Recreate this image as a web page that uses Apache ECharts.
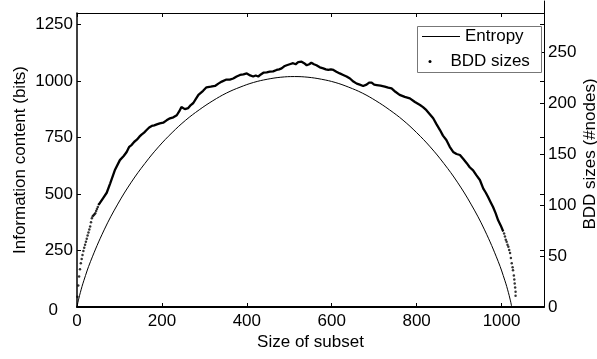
<!DOCTYPE html>
<html>
<head>
<meta charset="utf-8">
<script src="https://cdn.jsdelivr.net/npm/echarts@6/dist/echarts.min.js"></script>
<style>html,body{margin:0;padding:0;background:#fff}#c{width:597px;height:359px}</style>
</head>
<body>
<div id="c"></div>
<script>
// ---- data ----
var xTicks = [0, 200, 400, 600, 800, 1000];
var leftTicks = [0, 250, 500, 750, 1000, 1250];
var rightTicks = [0, 50, 100, 150, 200, 250];

// Entropy (bits) vs subset size
var entK = [0,2,4,8,16,32,64,96,128,160,192,224,256,288,320,352,384,416,448,480,512,544,576,608,640,672,704,736,768,800,832,864,896,928,960,992,1008,1016,1020,1022,1024];
var entV = [0,19,35,65,116,202,341,455,552,635,708,771,826,872,912,946,972,993,1007,1016,1019,1016,1007,993,972,946,912,872,826,771,708,635,552,455,341,202,116,65,35,19,0];

// BDD sizes (#nodes): sparse dots at the start
var headK = [1,3,5,7,9,11,13,15,17,19,21,23,25,27,29,31,33,35,37,39,41,43,45,47,49];
var headV = [10,21,30,37,43,47,51,55,58,61,64,67,70,73,76,79,83,87,89,90,91,92,94,96,98];
// dense middle part
var bodyK = [50,54,62,70,78,89,101,110,117,123,129,135,141,147,152,158,164,170,176,182,188,195,203,211,219,227,235,241,246,254,262,268,274,280,286,290,297,305,315,325,333,341,352,360,368,376,384,392,400,408,415,421,427,433,439,447,454,462,470,476,482,488,494,501,509,515,521,529,535,541,547,552,558,564,572,580,586,592,598,604,611,619,627,635,643,651,659,666,674,682,688,694,700,706,715,725,733,741,750,760,772,784,796,808,815,823,831,839,847,855,862,870,878,886,894,902,910,918,925,933,941,949,957,963,968,974,980,986,992,998,1004];
var bodyV = [100,102,107,112,121,134,144,148,152,157,159,162,164,167,169,171,173.5,176,177.5,178,179,180,180.7,183,185,186,188,192,196,194,195,198,200,204,208,209.5,212,215.4,216,216.7,219,221,223,223,224,226,227.5,228,229,227,226,227,226,228,229.7,230,230.7,231,232.4,233,234,236,237,238,239,238,240,240.5,239,237,238,239.5,238,237,235,234,233,232.4,233,232.4,230.7,229,227.5,226,224,221,219,218,216.7,218,220,220,218,217.6,217,216,215,214.4,211,208,206,204.6,201,198,196,193,189,185,179,173.5,168,163.7,157,152,150,149,145,141,137,134,129,124.5,116,112,108,103,98,92,85,80,74];
// sparse dots at the end
var tailK = [1006,1008,1010,1012,1014,1016,1018,1020,1022,1024,1026,1027,1029,1030,1031,1032,1033,1033];
var tailV = [72,69,66,64,61,59,56,53,48,43,39,36,31,27,23,19,15,11];

function pairs(a, b) { return a.map(function (v, i) { return [v, b[i]]; }); }

var FONT = "'Liberation Sans', Arial, Helvetica, sans-serif";
var chart = echarts.init(document.getElementById('c'), null, { renderer: 'canvas' });

var baseX = {
  type: 'value', min: 0, max: 1100, interval: 200,
  splitLine: { show: false },
  axisLine: { onZero: false, lineStyle: { color: '#000', width: 1 } },
  axisTick: { inside: true, length: 4, lineStyle: { color: '#000' } }
};

chart.setOption({
  animation: false,
  backgroundColor: '#fff',
  textStyle: { fontFamily: FONT, color: '#000' },
  grid: [
    { left: 77, right: 53, top: 13, bottom: 52, containLabel: false, outerBoundsMode: 'none' },
    { left: 77, right: 53, top: 1, bottom: 52, containLabel: false, outerBoundsMode: 'none' }
  ],
  xAxis: [
    Object.assign({}, baseX, {
      gridIndex: 0, position: 'bottom',
      axisLine: { onZero: false, lineStyle: { color: '#000', width: 2 } },
      axisLabel: { color: '#000', fontSize: 17, fontFamily: FONT, margin: 6, showMaxLabel: false,
        formatter: function (v) { return xTicks.indexOf(v) >= 0 ? String(v) : ''; } },
      name: 'Size of subset', nameLocation: 'middle', nameGap: 27, nameMoveOverlap: false,
      nameTextStyle: { color: '#000', fontSize: 17, fontFamily: FONT }
    }),
    Object.assign({}, baseX, {
      gridIndex: 0, position: 'top',
      axisLabel: { show: false }
    }),
    { type: 'value', gridIndex: 1, min: 0, max: 1100, show: false }
  ],
  yAxis: [
    {
      type: 'value', gridIndex: 0, position: 'left', min: 0, max: 1300, interval: 250,
      splitLine: { show: false },
      axisLine: { show: true, onZero: false, lineStyle: { color: '#000', width: 1.5 } },
      axisTick: { show: true, inside: true, length: 4, lineStyle: { color: '#000' } },
      axisLabel: {
        color: '#000', fontSize: 17, fontFamily: FONT, margin: 4, showMaxLabel: false,
        formatter: function (v) {
          if (leftTicks.indexOf(v) < 0) return '';
          return v === 0 ? '{z|0}' : String(v);
        },
        rich: { z: { fontSize: 17, fontFamily: FONT, color: '#000', padding: [6, 15, 0, 0] } }
      },
      name: 'Information content (bits)', nameLocation: 'middle', nameGap: 48, nameRotate: 90,
      nameMoveOverlap: false,
      nameTextStyle: { color: '#000', fontSize: 17, fontFamily: FONT }
    },
    {
      type: 'value', gridIndex: 0, position: 'right', min: 0, max: 1300, interval: 250,
      splitLine: { show: false },
      axisLine: { show: false, onZero: false },
      axisTick: { show: true, inside: true, length: 4, lineStyle: { color: '#000' } },
      axisLabel: { show: false }
    },
    {
      type: 'value', gridIndex: 1, position: 'right', min: 0, max: 300, interval: 50,
      splitLine: { show: false },
      axisLine: { show: true, onZero: false, lineStyle: { color: '#000', width: 1 } },
      axisTick: { show: true, inside: true, length: 4, lineStyle: { color: '#000' } },
      axisLabel: { color: '#000', fontSize: 17, fontFamily: FONT, margin: 4, showMaxLabel: false,
        formatter: function (v) { return rightTicks.indexOf(v) >= 0 ? String(v) : ''; } },
      name: 'BDD sizes (#nodes)', nameLocation: 'middle', nameGap: 38, nameRotate: 90,
      nameMoveOverlap: false,
      nameTextStyle: { color: '#000', fontSize: 17, fontFamily: FONT }
    }
  ],
  graphic: [
    { type: 'rect', z: 5, shape: { x: 417.5, y: 26.5, width: 124, height: 46 },
      style: { fill: '#fff', stroke: '#777', lineWidth: 1 } }
  ],
  legend: [
    { data: [{ name: 'Entropy', icon: 'rect' }], left: 422, top: 28, padding: 0, z: 10,
      itemWidth: 38, itemHeight: 1, selectedMode: false,
      textStyle: { color: '#000', fontSize: 17, fontFamily: FONT } },
    { data: [{ name: 'BDD sizes', icon: 'circle' }], left: 428.5, top: 53, padding: 0, z: 10,
      itemWidth: 3, itemHeight: 3, selectedMode: false,
      textStyle: { color: '#000', fontSize: 17, fontFamily: FONT, padding: [0, 0, 0, 14] } }
  ],
  series: [
    { name: 'Entropy', type: 'line', xAxisIndex: 0, yAxisIndex: 0,
      data: pairs(entK, entV), smooth: 0.4, showSymbol: false, symbol: 'none',
      color: '#000', lineStyle: { color: '#000', width: 1 } },
    { name: 'BDD sizes', type: 'line', xAxisIndex: 2, yAxisIndex: 2,
      data: pairs(bodyK, bodyV), showSymbol: false, symbol: 'none',
      color: '#000', lineStyle: { color: '#000', width: 2.3 } },
    { name: 'BDD sizes', type: 'scatter', xAxisIndex: 2, yAxisIndex: 2,
      data: pairs(headK, headV).concat(pairs(tailK, tailV)), symbolSize: 2.5,
      color: '#000', itemStyle: { color: '#000' } }
  ]
});
</script>
</body>
</html>
